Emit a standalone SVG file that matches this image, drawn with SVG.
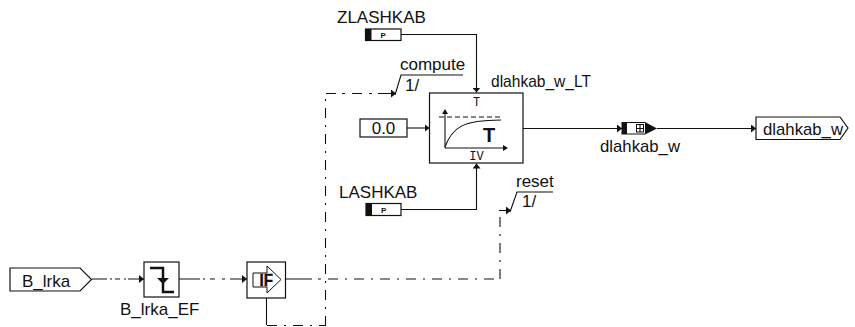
<svg xmlns="http://www.w3.org/2000/svg" width="855" height="327" viewBox="0 0 855 327">
<style>
text{font-family:"Liberation Sans",Arial,sans-serif;font-size:17px;fill:#111}
.box{fill:#fff;stroke:#111;stroke-width:1.2}
.l{fill:none;stroke:#111;stroke-width:1.1}
.d{fill:none;stroke:#111;stroke-width:1.1;stroke-dasharray:10 7 2 7}
.k{fill:#111;stroke:none}
text.m{font-family:"Liberation Mono",monospace;font-size:12px}
text.p{font-size:8px;font-weight:bold}
</style>
<defs>
<marker id="a" markerWidth="6" markerHeight="8" refX="5" refY="4" orient="auto" markerUnits="userSpaceOnUse"><path d="M0 0L5 4L0 8Z" fill="#111"/></marker>
</defs>
<g id="connectors">
<path class="l" d="M401 34.500H476.500V92.500" marker-end="url(#a)"/>
<path class="l" d="M407 128H429.500" marker-end="url(#a)"/>
<path class="l" d="M401 209.500H476.500V163.500" marker-end="url(#a)"/>
<path class="l" d="M523 128.500H622" marker-end="url(#a)"/>
<path class="l" d="M657 128.500H756" marker-end="url(#a)"/>
<path class="l" d="M92 279H107M110 279H112M115 279H120M124 279H126M128 279H144" marker-end="url(#a)"/>
<path class="l" d="M179 279H200M203 279H205M210 279H215M222 279H225M230 279H247" marker-end="url(#a)"/>
<path class="l" d="M286 279H312M318 279H321"/>
<path class="d" d="M328 279H494"/>
<path class="d" d="M500 279V212"/>
<path class="l" d="M499 210.500H511" marker-end="url(#a)"/>
<path class="l" d="M266.500 298V325"/>
<path class="d" d="M267 325.500H325"/>
<path class="d" d="M325.500 326V94"/>
<path class="l" d="M326 93.500H336M342 93.500H345M352 93.500H362M369 93.500H372M378 93.500H396" marker-end="url(#a)"/>
<path class="l" d="M395 95L401 75H463"/>
<path class="l" d="M510 212L517 192H553"/>
</g>
<g id="ZLASHKAB"><rect class="box" x="365.500" y="29" width="35.500" height="11.500"/><rect class="k" x="365.500" y="29" width="6" height="11.500"/><text class="p" x="380.500" y="38">P</text><text x="337" y="23">ZLASHKAB</text></g>
<g id="compute"><text x="400" y="70">compute</text><text x="405" y="91">1/</text></g>
<g id="dlahkab_w_LT">
<rect class="box" x="429.500" y="93" width="93.500" height="70"/>
<text x="491" y="87" textLength="100" lengthAdjust="spacingAndGlyphs">dlahkab_w_LT</text>
<text class="m" x="476.500" y="106" text-anchor="middle">T</text>
<text class="m" x="476.500" y="160" text-anchor="middle">IV</text>
<path class="l" d="M445 148V111M445 148H506"/>
<path class="k" d="M445 109L442 114H448ZM508 148L503 145V151Z"/>
<path class="l" d="M439 117H501" stroke-dasharray="5 3"/>
<path class="l" d="M445 147C452 128 462 120 501 120" stroke-width="1.5"/>
<text x="483" y="142" style="font-size:20px;font-weight:bold">T</text>
</g>
<g id="const"><rect class="box" x="360" y="119" width="47" height="18"/><text x="383.500" y="134" text-anchor="middle">0.0</text></g>
<g id="LASHKAB"><rect class="box" x="366" y="203.500" width="35" height="12"/><rect class="k" x="366" y="203.500" width="6" height="12"/><text class="p" x="381" y="213">P</text><text x="339" y="198">LASHKAB</text></g>
<g id="reset"><text x="516" y="187">reset</text><text x="522" y="207">1/</text></g>
<g id="dlahkab_w_sub">
<path class="k" d="M621.500 122H645L657 128.500L645 134.500H621.500Z"/>
<rect x="627" y="123" width="18" height="10.500" fill="#fff"/>
<rect x="636.500" y="124.500" width="7" height="7.500" fill="none" stroke="#111"/><path class="l" d="M636.500 128.500H643.500M640 124.500V132"/>
<text x="600" y="152" textLength="80" lengthAdjust="spacingAndGlyphs">dlahkab_w</text>
</g>
<g id="dlahkab_w"><path class="box" d="M756 117H840L848 128L840 139.500H756Z"/><text x="763" y="135" textLength="80" lengthAdjust="spacingAndGlyphs">dlahkab_w</text></g>
<g id="B_lrka"><path class="box" d="M10 268H80L91.500 279.500L80 291H10Z"/><text x="22" y="287">B_lrka</text></g>
<g id="B_lrka_EF">
<rect class="box" x="144" y="262" width="35" height="35"/>
<path fill="none" stroke="#111" stroke-width="2.500" d="M150 268H163V292H174"/>
<path class="k" d="M157 278H169L163 284Z"/>
<text x="120" y="315">B_lrka_EF</text>
</g>
<g id="IF">
<rect class="box" x="247" y="262" width="38.500" height="36"/>
<path fill="#fff" stroke="#111" d="M253 273H267V266L281 279.500L267 293V287H253Z"/>
<text x="259.500" y="286" textLength="13.500" lengthAdjust="spacingAndGlyphs" style="font-weight:bold;stroke:#111;stroke-width:.4">IF</text>
</g>
</svg>
